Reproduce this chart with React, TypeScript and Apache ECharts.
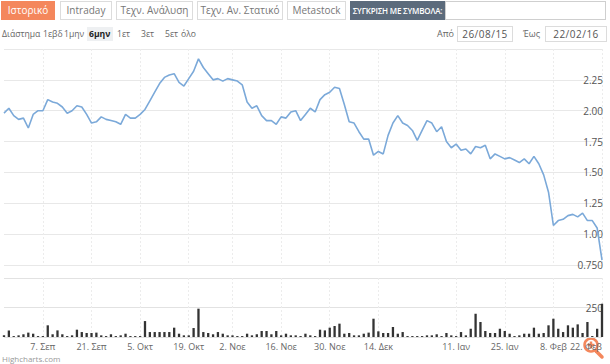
import React, { useEffect, useRef } from "react";
import * as echarts from "echarts";

// ---- data ----
const startDate = "2015-08-26";
const endDate = "2016-02-22";
const holidays = ["2015-10-28", "2015-12-24", "2015-12-25", "2016-01-01", "2016-01-06"];

const priceValues = [
  1.98, 2.02, 1.96, 1.93, 1.94, 1.86, 1.97, 2.0, 2.0, 2.09,
  2.07, 2.06, 2.03, 1.98, 2.0, 2.04, 2.03, 1.97, 1.9, 1.91,
  1.95, 1.93, 1.92, 1.91, 1.89, 1.97, 1.94, 1.94, 1.97, 2.01,
  2.08, 2.15, 2.22, 2.27, 2.29, 2.3, 2.23, 2.2, 2.26, 2.32,
  2.42, 2.35, 2.3, 2.25, 2.26, 2.24, 2.26, 2.25, 2.24, 2.21,
  2.07, 2.02, 2.04, 1.96, 1.92, 1.92, 1.89, 1.95, 1.94, 1.99,
  2.0, 1.92, 1.97, 2.02, 1.99, 2.09, 2.13, 2.15, 2.19, 2.18,
  2.05, 1.91, 1.9, 1.83, 1.77, 1.77, 1.64, 1.67, 1.65, 1.8,
  1.9, 1.96, 1.9, 1.88, 1.84, 1.76, 1.84, 1.92, 1.9, 1.83,
  1.87, 1.75, 1.7, 1.73, 1.68, 1.69, 1.65, 1.71, 1.7, 1.72,
  1.61, 1.65, 1.63, 1.61, 1.62, 1.6, 1.58, 1.61, 1.57, 1.63,
  1.57, 1.48, 1.34, 1.07, 1.11, 1.12, 1.15, 1.16, 1.14, 1.17,
  1.11, 1.11, 1.05, 0.79,
];

const volumeValues = [
  14, 56, 8, 14, 23, 37, 28, 8, 8, 99,
  23, 56, 23, 8, 14, 62, 42, 34, 34, 37,
  14, 8, 23, 8, 14, 28, 8, 8, 8, 135,
  42, 42, 42, 42, 42, 79, 28, 14, 14, 76,
  240, 42, 34, 23, 42, 28, 14, 14, 8, 8,
  28, 14, 23, 51, 51, 23, 51, 14, 28, 14,
  14, 8, 28, 14, 8, 62, 56, 79, 93, 113,
  28, 34, 14, 14, 28, 37, 155, 48, 34, 34,
  85, 28, 42, 8, 8, 8, 8, 14, 14, 23,
  8, 34, 14, 8, 42, 14, 70, 197, 127, 51,
  34, 34, 70, 51, 28, 8, 14, 28, 28, 79,
  28, 34, 99, 155, 70, 42, 99, 79, 107, 34,
  127, 8, 70, 282,
];

const xTickDates = [
  "2015-09-07", "2015-09-21", "2015-10-05", "2015-10-19", "2015-11-02", "2015-11-16",
  "2015-11-30", "2015-12-14", "2016-01-11", "2016-01-25", "2016-02-08", "2016-02-22",
];
const monthNames = ["Ιαν", "Φεβ", "Μαρ", "Απρ", "Μαϊ", "Ιουν", "Ιουλ", "Αυγ", "Σεπ", "Οκτ", "Νοε", "Δεκ"];
const priceTicks = [0.75, 1.0, 1.25, 1.5, 1.75, 2.0, 2.25];
const volumeTicks = [250];

// trading-day calendar (weekdays minus exchange holidays)
function tradingDays(): string[] {
  const out: string[] = [];
  const d = new Date(startDate + "T00:00:00Z");
  const end = new Date(endDate + "T00:00:00Z");
  while (d <= end) {
    const wd = d.getUTCDay();
    const s = d.toISOString().slice(0, 10);
    if (wd !== 0 && wd !== 6 && !holidays.includes(s)) out.push(s);
    d.setUTCDate(d.getUTCDate() + 1);
  }
  return out;
}
const categories = tradingDays();

function fmtDate(v: string) {
  const [, m, dd] = v.split("-");
  return `${parseInt(dd, 10)}. ${monthNames[parseInt(m, 10) - 1]}`;
}

const FONT = "'Open Sans', 'DejaVu Sans', sans-serif";
const ORANGE = "#f4875c";

function Chart() {
  const ref = useRef<HTMLDivElement>(null);
  useEffect(() => {
    if (!ref.current) return;
    const chart = echarts.init(ref.current, undefined, { renderer: "svg" });
    const tickSet = new Set(xTickDates);
    const isTick = (_i: number, v: string) => tickSet.has(v);
    chart.setOption({
      animation: false,
      textStyle: { fontFamily: FONT },
      grid: [
        { left: 4, right: 8, top: 49, height: 216 },
        { left: 4, right: 8, top: 278, height: 59 },
      ],
      xAxis: [
        {
          type: "category",
          gridIndex: 0,
          data: categories,
          boundaryGap: false,
          axisLine: { show: false },
          axisTick: { show: false },
          axisLabel: { show: false },
          splitLine: { show: true, interval: isTick, lineStyle: { color: "#ececec", type: [2, 2], width: 1 } },
        },
        {
          type: "category",
          gridIndex: 1,
          data: categories,
          boundaryGap: false,
          axisLine: { show: false },
          axisTick: { show: false },
          axisLabel: {
            show: true,
            interval: isTick,
            formatter: (v: string) => fmtDate(v),
            fontSize: 9,
            color: "#666",
            margin: 5,
            fontFamily: FONT,
            alignMaxLabel: "right",
          },
          splitLine: { show: true, interval: isTick, lineStyle: { color: "#ececec", type: [2, 2], width: 1 } },
        },
      ],
      yAxis: [
        {
          type: "value",
          gridIndex: 0,
          position: "right",
          min: 0.75,
          max: 2.5,
          interval: 0.25,
          axisLine: { show: false },
          axisTick: { show: false },
          splitLine: { show: true, lineStyle: { color: "#e8e8e8", width: 1 } },
          axisLabel: {
            inside: true,
            margin: -1,
            fontSize: 10,
            color: "#555",
            fontFamily: FONT,
            padding: [0, 0, 7, 0],
            formatter: (v: number) => {
              const hit = priceTicks.find((t) => Math.abs(t - v) < 1e-6);
              if (hit === undefined) return "";
              return Math.abs(hit - 0.75) < 1e-6 ? "0.750" : hit.toFixed(2);
            },
          },
        },
        {
          type: "value",
          gridIndex: 1,
          position: "right",
          min: 0,
          max: 500,
          interval: 250,
          axisLine: { show: false },
          axisTick: { show: false },
          splitLine: { show: true, lineStyle: { color: "#e2e2e2", width: 1 } },
          axisLabel: {
            inside: true,
            margin: -1,
            fontSize: 10,
            color: "#555",
            fontFamily: FONT,
            padding: [0, 0, 10, 0],
            formatter: (v: number) => (volumeTicks.includes(v) ? String(v) : ""),
          },
        },
      ],
      series: [
        {
          type: "line",
          xAxisIndex: 0,
          yAxisIndex: 0,
          data: priceValues,
          showSymbol: false,
          symbol: "none",
          lineStyle: { color: "#7ba9d9", width: 1.6 },
          z: 5,
        },
        {
          type: "bar",
          xAxisIndex: 1,
          yAxisIndex: 1,
          data: volumeValues,
          barWidth: 2.3,
          itemStyle: { color: "#333" },
        },
      ],
      graphic: [
        {
          type: "text",
          left: 2,
          top: 354,
          style: { text: "Highcharts.com", fontSize: 8, fill: "#999", fontFamily: FONT },
        },
        {
          type: "group",
          z: 100,
          children: [
            { type: "line", shape: { x1: 596, y1: 351, x2: 602, y2: 357 }, style: { stroke: ORANGE, lineWidth: 3.5, lineCap: "round" } },
            { type: "circle", shape: { cx: 591, cy: 345, r: 6.5 }, style: { fill: "#fff", stroke: ORANGE, lineWidth: 2.5 } },
            { type: "line", shape: { x1: 587.5, y1: 345, x2: 594.5, y2: 345 }, style: { stroke: ORANGE, lineWidth: 2.5 } },
            { type: "line", shape: { x1: 591, y1: 341.5, x2: 591, y2: 348.5 }, style: { stroke: ORANGE, lineWidth: 2.5 } },
          ],
        },
      ],
    });
    return () => chart.dispose();
  }, []);
  return <div ref={ref} style={{ position: "absolute", left: 0, top: 0, width: 610, height: 364 }} />;
}

const btn = (left: number, width: number): React.CSSProperties => ({
  position: "absolute",
  left,
  top: 1,
  width,
  height: 19,
  boxSizing: "border-box",
  border: "1px solid #dcdcdc",
  background: "#fff",
  color: "#777",
  fontSize: 10,
  lineHeight: "17px",
  textAlign: "center",
  whiteSpace: "nowrap",
});

const small = (left: number, extra: React.CSSProperties = {}): React.CSSProperties => ({
  position: "absolute",
  left,
  top: 28,
  fontSize: 8.6,
  lineHeight: "12px",
  color: "#666",
  whiteSpace: "nowrap",
  ...extra,
});

const dateBox = (left: number, width: number): React.CSSProperties => ({
  position: "absolute",
  left,
  top: 26,
  width,
  height: 16,
  boxSizing: "border-box",
  border: "1px solid #dcdcdc",
  color: "#555",
  fontSize: 10,
  lineHeight: "14px",
  textAlign: "center",
  letterSpacing: 0.5,
});

export default function App() {
  return (
    <div
      style={{
        position: "fixed",
        left: 0,
        top: 0,
        width: 610,
        height: 364,
        background: "#fff",
        overflow: "hidden",
        fontFamily: FONT,
      }}
    >
      <Chart />
      <div style={{ ...btn(1, 54), background: ORANGE, border: "none", color: "#fff", lineHeight: "19px" }}>Ιστορικό</div>
      <div style={btn(60, 52)}>Intraday</div>
      <div style={btn(116, 77)}>Τεχν. Ανάλυση</div>
      <div style={btn(197, 86)}>Τεχν. Αν. Στατικό</div>
      <div style={btn(287, 59)}>Metastock</div>
      <div
        style={{
          position: "absolute",
          left: 350,
          top: 1,
          width: 95,
          height: 19,
          background: "#5c6b7c",
          color: "#fff",
          fontSize: 8,
          fontWeight: 600,
          lineHeight: "19px",
          textAlign: "center",
          whiteSpace: "nowrap",
          letterSpacing: -0.2,
        }}
      >
        ΣΥΓΚΡΙΣΗ ΜΕ ΣΥΜΒΟΛΑ:
      </div>
      <div
        style={{
          position: "absolute",
          left: 445,
          top: 1,
          width: 161,
          height: 19,
          boxSizing: "border-box",
          border: "1px solid #cfcfcf",
          background: "#fff",
        }}
      />
      <div style={small(2)}>Διάστημα</div>
      <div style={small(43)}>1εβδ</div>
      <div style={small(64)}>1μην</div>
      <div
        style={{
          position: "absolute",
          left: 87,
          top: 27,
          width: 26,
          height: 14,
          background: "#eef0f2",
        }}
      />
      <div style={small(89, { color: "#222", fontWeight: 700 })}>6μην</div>
      <div style={small(117)}>1ετ</div>
      <div style={small(141)}>3ετ</div>
      <div style={small(165)}>5ετ</div>
      <div style={small(181)}>όλο</div>
      <div style={{ ...small(437), fontSize: 9 }}>Από</div>
      <div style={dateBox(457, 56)}>26/08/15</div>
      <div style={{ ...small(523), fontSize: 9 }}>Έως</div>
      <div style={dateBox(545, 62)}>22/02/16</div>
    </div>
  );
}
